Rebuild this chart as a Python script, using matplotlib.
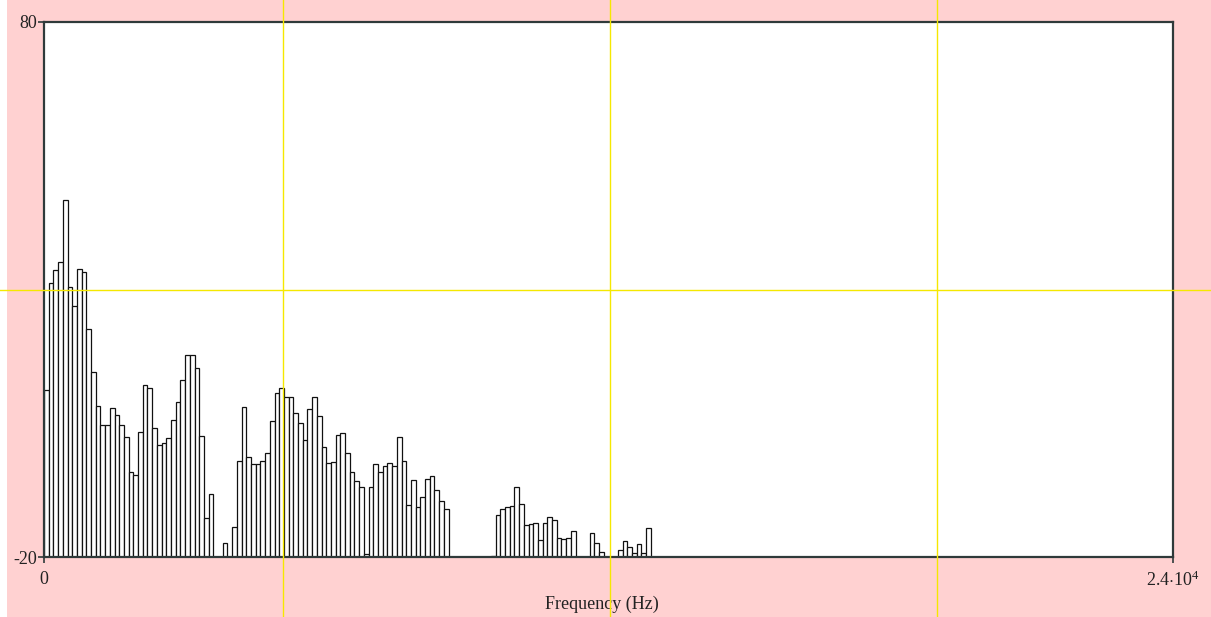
import numpy as np
import matplotlib
matplotlib.use("Agg")
from matplotlib import pyplot as plt
from matplotlib.patches import Rectangle
from matplotlib.transforms import blended_transform_factory

plt.rcParams['font.family'] = ['Liberation Serif', 'DejaVu Serif']
plt.rcParams['mathtext.fontset'] = 'custom'
plt.rcParams['mathtext.rm'] = 'Liberation Serif'

# spectrum bins, 100 Hz wide, level per bin (floor is -20)
bin_width = 100
levels = [
    11.3, 31.3, 33.6, 35.2, 46.7, 30.4, 27.0, 33.9, 33.3, 22.7,
    14.6, 8.3, 4.6, 4.6, 7.8, 6.5, 4.6, 2.4, -4.1, -4.7,
    3.4, 12.1, 11.6, 4.2, 0.9, 1.4, 2.3, 5.6, 8.9, 13.0,
    17.7, 17.8, 15.3, 2.7, -12.8, -8.3, -20, -20, -17.4, -20,
    -14.3, -2.0, 8.0, -1.4, -2.7, -2.7, -2.0, -0.5, 5.5, 10.7,
    11.5, 10.0, 10.0, 7.0, 5.0, 1.9, 7.7, 10.0, 6.4, 0.5,
    -2.4, -2.2, 2.8, 3.1, -0.5, -4.2, -5.8, -7.0, -19.5, -7.0,
    -2.7, -4.1, -3.0, -2.5, -3.0, 2.4, -2.0, -10.3, -5.6, -10.7,
    -8.8, -5.4, -4.8, -7.5, -9.6, -11.1, -20, -20, -20, -20,
    -20, -20, -20, -20, -20, -19.8, -12.1, -11.1, -10.7, -10.5,
    -6.9, -10.1, -14.1, -13.8, -13.7, -16.8, -13.6, -12.6, -13.0, -16.4,
    -16.6, -16.4, -15.2, -20, -20, -20, -15.6, -17.4, -19.0, -20,
    -20, -20, -18.7, -17.0, -18.1, -19.3, -17.6, -19.3, -14.5,
]
y_floor = -20
y_top = 80
x_max = 24000

# yellow marker lines
vlines_hz = [5081, 12032, 18983]
hline_level = 30

freqs = np.arange(len(levels)) * bin_width
heights = np.array(levels) - y_floor

fig = plt.figure(figsize=(12.11, 6.17), dpi=100)
fig.patch.set_facecolor('white')
fig.add_artist(Rectangle((7 / 1211, 0), 1, 1, transform=fig.transFigure,
                         facecolor='#ffd1d1', edgecolor='none', zorder=-10))

ax = fig.add_axes([44 / 1211, 60 / 617, 1129 / 1211, 535 / 617])
ax.set_facecolor('white')

ax.bar(freqs, heights, width=bin_width, bottom=y_floor, align='edge',
       facecolor='white', edgecolor='#111111', linewidth=0.9, zorder=2)

ax.set_xlim(0, x_max)
ax.set_ylim(y_floor, y_top)
ax.set_xticks([0, x_max])
ax.set_xticklabels(['0', r'$\mathrm{2.4{\cdot}10^{4}}$'])
ax.set_yticks([y_floor, y_top])
ax.set_yticklabels(['-20', '80'])
ax.tick_params(axis='both', direction='out', length=4, width=1.2,
               color='#2f3a3a', labelsize=13, labelcolor='#222222')
ax.tick_params(axis='y', pad=1)
ax.tick_params(axis='x', pad=6)
for s in ax.spines.values():
    s.set_color('#2f3a3a')
    s.set_linewidth(1.6)

ax.set_xlabel('Frequency (Hz)', fontsize=13, color='#222222')
ax.xaxis.set_label_coords((602 - 44) / 1129, -0.073)

# marker lines run across the whole figure
tr_v = blended_transform_factory(ax.transData, fig.transFigure)
for xv in vlines_hz:
    ax.plot([xv, xv], [0, 1], transform=tr_v, color='#f5e800',
            linewidth=1.0, clip_on=False, zorder=5)
tr_h = blended_transform_factory(fig.transFigure, ax.transData)
ax.plot([0, 1], [hline_level, hline_level], transform=tr_h, color='#f5e800',
        linewidth=1.0, clip_on=False, zorder=5)

fig.savefig('out.png', dpi=100)
